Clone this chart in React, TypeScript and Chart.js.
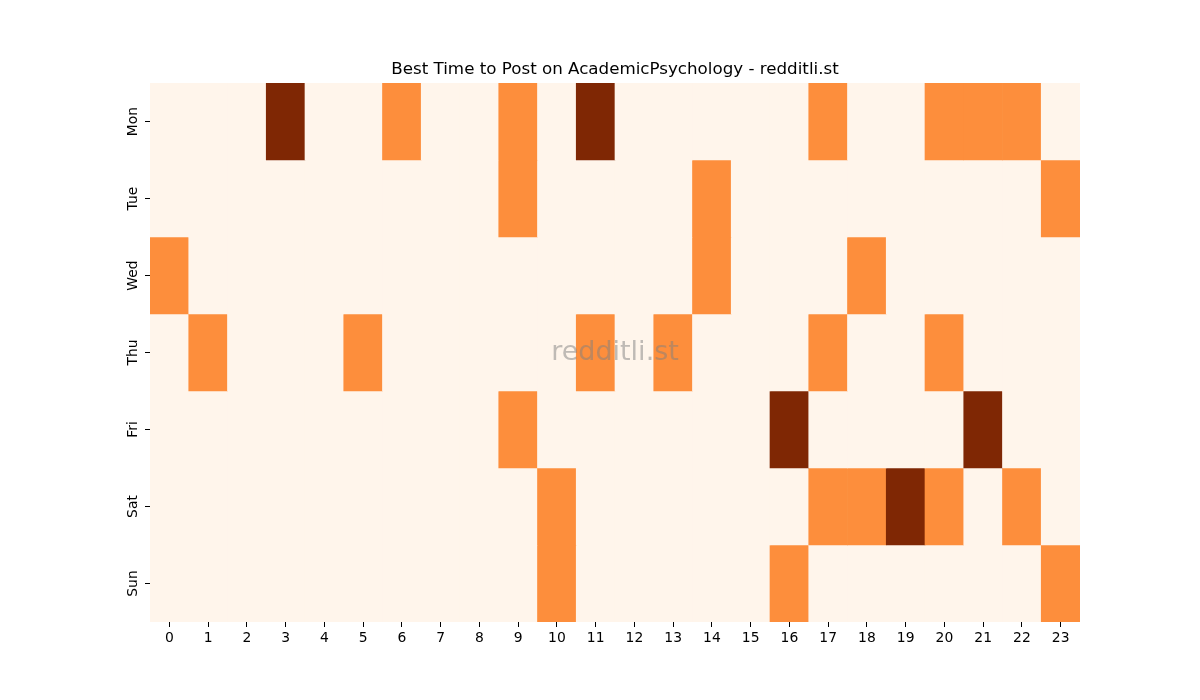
import { Chart, registerables } from 'chart.js';
import { useRef, useEffect } from 'react';
Chart.register(...registerables);

const hours = ['0', '1', '2', '3', '4', '5', '6', '7', '8', '9', '10', '11', '12', '13', '14', '15', '16', '17', '18', '19', '20', '21', '22', '23'];
const days = ['Mon', 'Tue', 'Wed', 'Thu', 'Fri', 'Sat', 'Sun'];

// 0 = quiet, 1 = good, 2 = best (per hour)
const mon = [0, 0, 0, 2, 0, 0, 1, 0, 0, 1, 0, 2, 0, 0, 0, 0, 0, 1, 0, 0, 1, 1, 1, 0];
const tue = [0, 0, 0, 0, 0, 0, 0, 0, 0, 1, 0, 0, 0, 0, 1, 0, 0, 0, 0, 0, 0, 0, 0, 1];
const wed = [1, 0, 0, 0, 0, 0, 0, 0, 0, 0, 0, 0, 0, 0, 1, 0, 0, 0, 1, 0, 0, 0, 0, 0];
const thu = [0, 1, 0, 0, 0, 1, 0, 0, 0, 0, 0, 1, 0, 1, 0, 0, 0, 1, 0, 0, 1, 0, 0, 0];
const fri = [0, 0, 0, 0, 0, 0, 0, 0, 0, 1, 0, 0, 0, 0, 0, 0, 2, 0, 0, 0, 0, 2, 0, 0];
const sat = [0, 0, 0, 0, 0, 0, 0, 0, 0, 0, 1, 0, 0, 0, 0, 0, 0, 1, 1, 2, 1, 0, 1, 0];
const sun = [0, 0, 0, 0, 0, 0, 0, 0, 0, 0, 1, 0, 0, 0, 0, 0, 1, 0, 0, 0, 0, 0, 0, 1];
const grid = [mon, tue, wed, thu, fri, sat, sun];

const palette = ['#fff5eb', '#fd8e3c', '#7f2704'];
const FONT = "'DejaVu Sans', sans-serif";

const dayLabels = {
    id: 'dayLabels',
    afterDraw(chart: any) {
        const { ctx, chartArea, scales } = chart;
        ctx.save();
        ctx.fillStyle = '#000';
        ctx.font = `13.9px ${FONT}`;
        ctx.textAlign = 'center';
        ctx.textBaseline = 'middle';
        days.forEach((d, i) => {
            const y = scales.y.getPixelForValue(i + 0.5);
            ctx.save();
            ctx.translate(chartArea.left - 17, y);
            ctx.rotate(-Math.PI / 2);
            ctx.fillText(d, 0, 0);
            ctx.restore();
        });
        ctx.restore();
    }
};

const watermark = {
    id: 'watermark',
    afterDatasetsDraw(chart: any) {
        const { ctx, chartArea } = chart;
        ctx.save();
        ctx.fillStyle = 'rgba(128, 128, 128, 0.5)';
        ctx.font = `27px ${FONT}`;
        ctx.textAlign = 'center';
        ctx.textBaseline = 'middle';
        ctx.fillText('redditli.st', (chartArea.left + chartArea.right) / 2, (chartArea.top + chartArea.bottom) / 2);
        ctx.restore();
    }
};

const App = () => {
    const chartRef = useRef(null);

    useEffect(() => {
        document.body.style.margin = '0';
        let myChart: any = null;

        if (chartRef.current) {
            myChart = new Chart(chartRef.current, {
                type: 'bar',
                data: {
                    labels: hours,
                    datasets: grid.map((row, i) => ({
                        label: days[i],
                        data: row.map(() => [i, i + 1]),
                        backgroundColor: row.map((v) => palette[v]),
                        borderWidth: 0,
                        barPercentage: 1,
                        categoryPercentage: 1,
                        grouped: false
                    }))
                },
                options: {
                    animation: false,
                    responsive: false,
                    maintainAspectRatio: false,
                    layout: { padding: { left: 0, right: 120, top: 60, bottom: 48 } },
                    plugins: {
                        legend: { display: false },
                        tooltip: { enabled: false },
                        title: {
                            display: true,
                            text: 'Best Time to Post on AcademicPsychology - redditli.st',
                            fullSize: false,
                            color: '#000',
                            font: { family: FONT, size: 16.7, weight: 'normal' },
                            padding: { top: 0, bottom: 3 }
                        }
                    },
                    scales: {
                        x: {
                            type: 'category',
                            offset: true,
                            border: { display: false },
                            grid: { display: true, drawOnChartArea: false, offset: false, tickLength: 5, tickColor: '#000', tickWidth: 1 },
                            ticks: { color: '#000', font: { family: FONT, size: 13.9 }, padding: 3, maxRotation: 0, autoSkip: false },
                            afterFit: (scale: any) => { scale.height = 30; }
                        },
                        y: {
                            type: 'linear',
                            min: 0,
                            max: 7,
                            reverse: true,
                            border: { display: false },
                            grid: { display: true, drawOnChartArea: false, tickLength: 5, tickColor: '#000', tickWidth: 1 },
                            ticks: { display: false },
                            afterBuildTicks: (scale: any) => {
                                scale.ticks = days.map((_, i) => ({ value: i + 0.5 }));
                            },
                            afterFit: (scale: any) => { scale.width = 150; }
                        }
                    }
                } as any,
                plugins: [dayLabels, watermark]
            });
        }

        return () => {
            if (myChart) {
                myChart.destroy();
            }
        };
    }, []);

    return (
        <div style={{ width: 1200, height: 700 }}>
            <canvas ref={chartRef} width={1200} height={700} style={{ width: 1200, height: 700 }}></canvas>
        </div>
    );
};

export default App;
